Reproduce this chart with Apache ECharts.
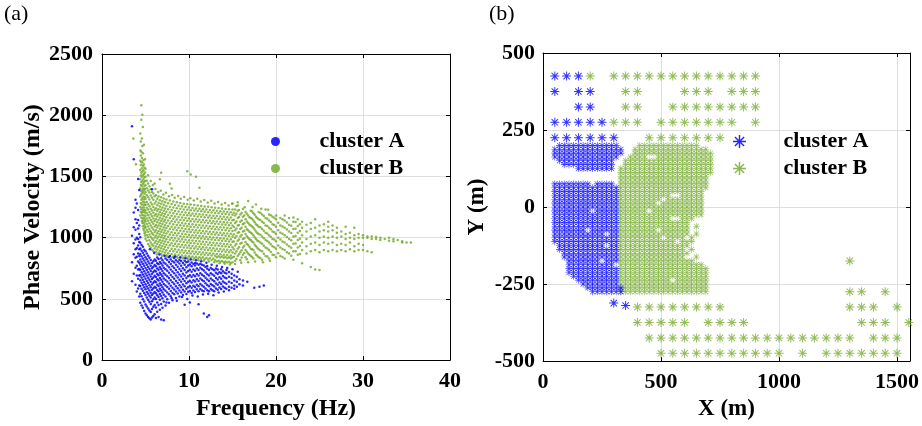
<!DOCTYPE html>
<html><head><meta charset="utf-8">
<script src="https://cdn.jsdelivr.net/npm/echarts@6/dist/echarts.min.js"></script>
<style>html,body{margin:0;padding:0;background:#fff}#c{width:922px;height:426px}</style>
</head><body><div id="c"></div>
<script>
// ---------- (a) dispersion data: [frequency (Hz), [phase velocities (m/s)]] ----------
const clusterA = [
[3.45,[645,800,1015,1910]],[3.65,[705,865,955,1085,1205,1640]],[3.85,[615,755,835,905,985,1065,1150,1245,1310]],
[4.0,[560,690,770,845,915,1000,1120,1280]],[4.15,[585,665,740,805,870,935,990,1075,1145,1225,1480]],
[4.28,[520,610,690,745,795,850,905,965,1030,1100,1390]],
[4.40,[468,541,605,652,694,736,779,822,866,912,958,1003]],
[4.55,[445,522,583,631,675,718,761,803,848,893,940]],
[4.70,[428,497,566,614,657,700,744,787,830,876,925]],
[4.85,[402,479,548,596,638,682,726,770,813,858,902]],
[5.00,[381,455,531,578,620,665,708,752,796,840,889]],
[5.15,[366,437,512,557,602,647,691,735,779,823,871]],
[5.30,[352,421,493,542,585,629,673,717,761,806,852]],
[5.45,[342,405,476,525,568,612,656,700,744,788,835]],
[5.60,[331,392,459,511,551,595,639,683,727,771,817]],
[5.75,[348,418,481,531,574,618,662,706,750,794,1395]],
[5.90,[361,436,497,543,587,631,675,719,763,808]],
[6.05,[374,449,512,556,600,644,688,732,776,822]],
[6.20,[343,429,499,547,591,635,679,723,767,811]],
[6.35,[395,471,529,572,616,660,704,748,792,838]],
[6.50,[352,451,516,562,606,650,694,738,782,826]],
[6.65,[412,492,540,582,626,670,714,758,802]],
[6.80,[331,458,523,568,612,656,700,744,788,831]],
[6.95,[427,505,552,596,640,684,728,772,816]],
[7.10,[325,478,534,578,622,666,710,754,798]],
[7.30,[446,519,566,610,654,698,742,786,830]],
[7.50,[496,553,597,641,685,729,773,817]],
[7.70,[468,538,582,626,670,714,758,802,841]],
[7.90,[521,564,608,652,696,740,784,822]],
[8.10,[489,549,591,635,679,723,767,808]],
[8.30,[538,577,621,665,709,753,797,833]],
[8.50,[508,560,603,647,691,735,779,816]],
[8.70,[544,586,630,674,718,762,804]],
[8.90,[519,568,612,656,700,744,788,818]],
[9.10,[553,595,639,683,727,771,810]],
[9.30,[532,574,618,662,706,750,794]],
[9.50,[452,561,603,647,691,735,779,812]],
[9.70,[540,583,627,671,715,759,800]],
[9.90,[558,596,640,684,728,772,805]],
[10.10,[471,564,605,649,693,737,781]],
[10.30,[549,590,634,678,722,766,797]],
[10.50,[569,608,652,696,740,784]],
[10.70,[556,597,641,685,729,773,794]],
[10.90,[578,616,660,704,748,789]],
[11.10,[456,563,603,647,691,735,779]],
[11.30,[581,622,666,710,754,786]],
[11.50,[569,610,654,698,742,779]],
[11.70,[381,562,599,643,687,731,772]],
[11.90,[585,628,672,716,760]],
[12.10,[352,571,614,658,702,746,768]],
[12.30,[366,563,603,647,691,735]],
[12.50,[581,622,666,710,752]],
[12.70,[570,611,655,699,743]],
[12.90,[562,601,645,689,733]],
[13.10,[585,626,670,714,748]],
[13.30,[574,615,659,703,740]],
[13.50,[592,633,677,718]],
[13.70,[580,621,665,709,742]],
[13.90,[601,642,686,725]],
[14.10,[590,631,675,714]],
[14.30,[583,624,668,707,735]],
[14.60,[600,640,680,720]],[14.90,[590,630,670,705]],
[15.2,[610,650,690]],[15.5,[600,640,680]],[15.8,[620,660]],[16.2,[610,650]],
[16.7,[640]],[17.5,[590]],[18.1,[600]],[18.6,[610]]
];
// loose points around the edge of cluster A: [frequency, velocity]
const clusterAEdge = [
[5.5,905],[6.0,875],[6.6,862],[7.2,850],[7.8,851],[8.4,846],[9.0,838],[9.6,831],[10.2,822],[10.8,816],
[11.4,808],[12.0,795],[12.6,778],[13.2,770],[13.8,760],[14.4,752],[15.0,742],[15.6,722],
[7.4,470],[8.0,505],[8.6,485],[9.2,515],[9.8,498],[10.4,528],[11.0,520],[11.6,535],[12.2,541],
[12.8,530],[13.4,552],[14.0,560],[14.6,570],[15.2,582]
];
const clusterB = [
[3.6,[1810]],[3.9,[1600]],
[4.40,[1182,1251,1336,1402,1478,1553,1628,1712,1850]],
[4.46,[1210,1284,1349,1431,1507,1594,1671,1785]],
[4.52,[1163,1232,1309,1380,1455,1530,1618,1702,1962,2082]],
[4.58,[1137,1203,1270,1358,1420,1497,1566,1650,1809]],
[4.64,[1119,1186,1247,1321,1392,1463,1540,1613,1748,2003]],
[4.70,[1094,1158,1224,1293,1370,1438,1509,1588,1690,1903]],
[4.76,[1073,1140,1209,1268,1336,1402,1477,1551,1634]],
[4.82,[1058,1117,1181,1247,1311,1386,1450,1520,1598,1758]],
[4.88,[1035,1101,1163,1228,1290,1358,1421,1493,1570]],
[4.94,[1017,1080,1142,1206,1268,1330,1397,1462,1532,1640]],
[5.00,[992,1046,1088,1133,1179,1222,1268,1315,1372,1431,1497,1562]],
[5.15,[974,1019,1064,1111,1157,1200,1245,1292,1347,1404,1465]],
[5.30,[948,1003,1049,1092,1138,1184,1229,1273,1330,1386,1442]],
[5.45,[931,979,1026,1071,1118,1163,1209,1256,1311,1369,1420]],
[5.60,[917,960,1008,1052,1099,1145,1191,1236,1288,1344,1395]],
[5.75,[902,945,993,1037,1084,1129,1175,1221,1270,1326,1372]],
[5.90,[890,934,980,1024,1066,1113,1157,1204,1251,1309,1360]],
[6.05,[912,956,1002,1047,1091,1137,1181,1228,1280,1338,1443]],
[6.20,[885,927,971,1015,1061,1104,1150,1194,1241,1296,1347]],
[6.35,[903,948,993,1036,1082,1126,1173,1219,1265,1318]],
[6.50,[877,922,966,1010,1053,1100,1144,1189,1233,1284,1336]],
[6.65,[893,937,981,1028,1072,1117,1162,1207,1255,1305,1478]],
[6.80,[869,914,959,1003,1049,1093,1139,1183,1228,1276,1330,1530]],
[6.95,[886,931,975,1019,1065,1111,1155,1200,1247,1297]],
[7.10,[861,905,950,996,1040,1084,1131,1175,1220,1268,1320]],
[7.25,[879,924,968,1013,1058,1101,1147,1193,1238,1289]],
[7.40,[856,898,943,988,1033,1078,1122,1167,1212,1259,1311]],
[7.60,[873,917,962,1007,1051,1096,1141,1186,1232,1281]],
[7.80,[851,892,937,982,1026,1071,1115,1160,1205,1252,1303,1440]],
[8.00,[866,910,955,1000,1044,1089,1134,1179,1225,1274,1401]],
[8.20,[847,889,932,976,1020,1066,1110,1155,1199,1246,1296]],
[8.40,[862,905,951,995,1039,1083,1129,1173,1218,1266]],
[8.60,[844,883,927,971,1017,1061,1104,1149,1194,1240,1289]],
[8.80,[858,902,946,990,1035,1080,1124,1168,1213,1261]],
[9.00,[841,879,923,968,1012,1057,1101,1145,1190,1236,1283]],
[9.20,[855,898,942,987,1031,1076,1120,1164,1209,1256]],
[9.40,[838,876,920,964,1008,1053,1097,1142,1186,1231,1277]],
[9.60,[852,894,938,983,1027,1071,1116,1160,1205,1251]],
[9.80,[836,873,917,960,1005,1049,1094,1139,1183,1228,1273,1543]],
[10.00,[849,891,935,979,1023,1068,1112,1157,1201,1247]],
[10.20,[834,871,914,957,1002,1046,1090,1135,1180,1224,1270,1516]],
[10.40,[846,888,931,976,1020,1064,1109,1153,1198,1243]],
[10.60,[832,868,911,954,999,1043,1087,1132,1176,1221,1266]],
[10.80,[844,885,928,973,1017,1061,1106,1150,1195,1239,1497]],
[11.00,[829,866,908,951,996,1040,1084,1129,1173,1218,1262]],
[11.20,[841,882,925,970,1014,1058,1103,1147,1192,1236,1408]],
[11.40,[827,863,905,948,993,1037,1081,1126,1170,1215,1258]],
[11.60,[839,879,922,967,1011,1055,1100,1144,1189,1233]],
[11.80,[824,861,902,945,990,1034,1078,1123,1167,1211,1255]],
[12.00,[836,876,919,964,1008,1052,1097,1141,1186,1229]],
[12.20,[821,858,899,942,987,1031,1075,1120,1164,1208,1252]],
[12.40,[833,873,916,961,1005,1049,1094,1138,1182,1226]],
[12.60,[818,855,896,939,984,1028,1072,1117,1161,1205,1248]],
[12.80,[830,870,913,958,1002,1046,1091,1135,1179,1223]],
[13.00,[815,852,893,936,981,1025,1069,1114,1158,1202,1245]],
[13.20,[806,841,867,910,955,999,1043,1088,1132,1176,1219]],
[13.40,[812,849,890,933,978,1022,1066,1111,1155,1199,1242]],
[13.60,[803,838,864,907,952,996,1040,1085,1129,1173,1216]],
[13.80,[809,846,887,930,975,1019,1063,1108,1152,1196,1238]],
[14.00,[800,835,861,904,949,993,1037,1082,1126,1170,1213]],
[14.20,[806,843,884,927,972,1016,1060,1105,1149,1193,1235]],
[14.40,[797,832,858,901,946,990,1034,1079,1123,1167,1210]],
[14.60,[803,840,881,924,969,1013,1057,1102,1146,1190,1232]],
[14.80,[794,829,855,898,943,987,1031,1076,1120,1164,1207]],
[15.00,[800,837,878,921,966,1010,1054,1099,1143,1187,1229,1280]],
[15.15,[845,905,968,1027,1088,1146,1204]],
[15.3,[812,870,935,1000,1060,1120,1180,1230]],
[15.45,[826,889,951,1013,1075,1133,1195,1258]],
[15.6,[850,910,975,1040,1100,1160,1220,1290]],
[15.75,[864,921,985,1045,1104,1168,1226]],
[15.9,[815,880,950,1010,1070,1130,1190]],
[16.05,[838,897,958,1021,1081,1141,1201]],
[16.2,[860,920,990,1050,1110,1170,1235]],
[16.35,[874,934,996,1056,1118,1182]],
[16.5,[840,900,965,1030,1090,1150,1210]],
[16.65,[823,885,948,1012,1069,1131,1195]],
[16.8,[870,940,1000,1060,1120,1180,1300]],
[16.95,[861,925,986,1048,1108,1166]],
[17.1,[850,910,980,1040,1100,1160,1220]],
[17.25,[842,906,969,1031,1092,1154,1214]],
[17.4,[830,900,960,1020,1080,1140,1200]],
[17.55,[879,942,1004,1066,1126,1188]],
[17.7,[860,930,990,1050,1110,1170,1270]],
[17.85,[853,917,977,1038,1101,1160]],
[18.0,[840,905,970,1030,1090,1150,1210]],
[18.2,[833,896,961,1024,1085,1144,1203]],
[18.4,[820,890,950,1010,1070,1130,1190]],
[18.6,[869,934,995,1057,1119,1176]],
[18.8,[850,920,980,1040,1100,1160,1230]],
[19.0,[846,911,973,1034,1096,1155]],
[19.2,[830,900,960,1020,1080,1140,1190]],
[19.4,[882,946,1008,1068,1127,1183]],
[19.6,[860,930,990,1050,1110,1170]],
[19.8,[858,921,984,1045,1104,1162]],
[20.0,[840,910,970,1030,1090,1150,1180]],
[20.25,[872,936,999,1061,1121]],
[20.5,[850,920,985,1040,1100,1160]],
[20.75,[843,908,969,1031,1092,1150]],
[21.0,[830,900,960,1020,1080,1140,1180]],
[21.25,[881,945,1006,1067,1124]],
[21.5,[870,930,990,1050,1105,1160]],
[21.75,[852,917,979,1038,1097]],
[22.0,[820,890,950,1010,1070,1130,1165]],
[22.25,[889,953,1014,1072,1128]],
[22.5,[860,920,980,1040,1095,1150]],
[22.75,[866,931,992,1054,1110]],
[23.0,[790,900,960,1020,1080,1130]],[23.5,[870,930,990,1050,1105]],
[24.0,[760,890,950,1010,1070,1120]],[24.5,[740,900,960,1020,1080,1150]],
[25.0,[735,880,940,1000,1050,1100]],[25.5,[900,960,1010,1060,1110]],
[26.0,[890,950,1000,1050,1090,1130]],[26.5,[900,960,1010,1060,1100]],
[27.0,[890,940,1000,1040,1080]],[27.5,[900,950,1010,1050]],
[28.0,[890,940,990,1030,1090]],[28.5,[905,960,1000,1040]],
[29.0,[890,930,990,1020,1080]],[29.5,[900,950,1000,1030]],
[30.0,[900,940,1000,1020]],[30.5,[890,1000,1010]],[31.0,[880,990,1010]],
[31.5,[990,1005]],[32.0,[980,1000]],[32.5,[990]],[33.0,[975,1000]],
[33.5,[970,990]],[34.0,[980]],[34.5,[960,970]],[35.0,[960]],[35.5,[960]]
];
// loose points around the edge of cluster B: [frequency, velocity]
const clusterBEdge = [
[5.3,1510],[5.6,1462],[5.85,1431],[6.15,1398],[6.45,1372],[6.75,1384],[7.05,1352],[7.35,1366],[7.7,1338],
[8.05,1349],[8.35,1326],[8.75,1341],[9.05,1318],[9.45,1332],[9.85,1309],[10.15,1322],[10.55,1303],
[10.95,1317],[11.35,1296],[11.75,1308],[12.15,1288],[12.55,1301],[12.95,1279],[13.35,1292],[13.75,1270],
[14.15,1284],[14.55,1262],[14.95,1276],[15.6,1262],[16.4,1248],[17.3,1251],[18.3,1236],[19.1,1228],
[6.3,862],[6.9,851],[7.5,846],[8.1,839],[8.7,833],[9.3,829],[9.9,824],[10.5,820],[11.1,815],[11.7,811],
[12.3,806],[12.9,799],[13.5,792],[14.1,786],[14.7,781],[15.3,785],[16.0,795],[16.8,800],[17.6,806],
[18.5,800],[19.3,812]
];
const freqTicks = [0, 10, 20, 30, 40];
const velTicks = [0, 500, 1000, 1500, 2000, 2500];

// ---------- (b) survey grid positions ----------
// sparse rows: [Y (m), [X (m), ...]]
const sparseA = [
[425,[50,100,150]],[375,[50,150,200]],[325,[150,200]],
[275,[50,100,150,200,250]],[225,[50,100,150,200,250,300]],
[-312,[300]],[-320,[350]]
];
const sparseB = [
[425,[200,300,350,400,450,500,550,600,650,700,750,800,850,900]],
[375,[350,400,600,650,700,800,850,900]],
[325,[350,400,550,600,650,700,750,800,850,900]],
[275,[300,350,400,500,550,600,650,700,750,800,900]],
[225,[450,500,550,600,650,700,750]],
[-175,[1300]],
[-275,[1300,1350,1450]],
[-325,[400,450,500,550,600,650,700,750,1300,1350,1400,1500]],
[-375,[400,450,500,550,600,700,750,800,850,1350,1400,1450,1550]],
[-425,[450,500,550,600,650,700,750,800,850,900,950,1000,1050,1100,1150,1200,1250,1300,1400,1450,1500]],
[-475,[500,550,600,650,700,750,800,850,900,950,1000,1100,1200,1250,1300,1350,1400,1450,1500]]
];
// dense rows on the fine grid: [Y (m), xStart, xEnd, xStart, xEnd ...]
const denseStep = 20;
const denseA = [
[200,70,310],[187.5,50,330],[175,50,330],[162.5,50,310],[150,70,290],[137.5,90,290],[125,150,290],
[75,50,190,230,290],[62.5,50,190,210,310],[50,50,310],[37.5,50,310],[25,50,310],[12.5,50,310],[0,50,310],
[-12.5,50,190,230,310],[-25,50,310],[-37.5,50,310],[-50,50,310],[-62.5,50,310],
[-75,50,170,210,310],[-87.5,50,250,290,310],[-100,50,310],[-112.5,50,310],
[-125,70,250,290,310],[-137.5,70,310],[-150,90,310],[-162.5,90,310],
[-175,110,230,270,310],[-187.5,110,290],[-200,110,310],[-212.5,110,310],[-225,130,310],
[-237.5,150,310],[-250,170,310],[-262.5,190,330],[-275,210,330]
];
const denseB = [
[200,410,650],[187.5,390,690],[175,390,710],[162.5,370,430,490,710],[150,350,710],[137.5,350,710],
[125,330,710],[112.5,330,710],[100,330,690],[87.5,330,690],[75,330,690],[62.5,330,690],[50,330,670],
[37.5,330,530,590,670],[25,330,490,530,670],[12.5,330,470,510,670],[0,330,670],[-12.5,330,430,470,670],
[-25,330,670],[-37.5,330,530,590,630],[-50,330,610],[-62.5,330,610,650,650],[-75,330,470,510,610],
[-87.5,330,610,650,650],[-100,330,490,530,590,630,630],[-112.5,330,550,590,630],[-125,330,610],
[-137.5,330,590,630,630],[-150,330,610],[-162.5,330,590,650,650],[-175,330,630],[-187.5,330,670],
[-200,330,690],[-212.5,330,690],[-225,330,690],[-237.5,330,530,570,690],[-250,330,690],
[-262.5,330,690],[-275,330,700]
];
const xTicksB = [0, 500, 1000, 1500];
const yTicksB = [-500, -250, 0, 250, 500];

// ---------- build point tables ----------
function fromCols(cols){const o=[];cols.forEach(c=>c[1].forEach(v=>o.push([c[0],v])));return o;}
function fromRows(rows){const o=[];rows.forEach(r=>r[1].forEach(x=>o.push([x,r[0]])));return o;}
function fromRuns(runs){const o=[];runs.forEach(r=>{for(let i=1;i<r.length;i+=2){for(let x=r[i];x<=r[i+1]+0.5;x+=denseStep)o.push([x,r[0]]);}});return o;}

const ptsA1 = fromCols(clusterA).concat(clusterAEdge), ptsB1 = fromCols(clusterB).concat(clusterBEdge);
const sparsePtsA = fromRows(sparseA), densePtsA = fromRuns(denseA);
const sparsePtsB = fromRows(sparseB), densePtsB = fromRuns(denseB);

const BLUE = '#0000ff', GREEN = '#77ac30';
const FONT = 'Liberation Serif';
const STAR = 'path://M-0.9,-10L0.9,-10L0.9,10L-0.9,10Z M-10,-0.9L10,-0.9L10,0.9L-10,0.9Z M-6.43,-7.7L7.7,6.43L6.43,7.7L-7.7,-6.43Z M6.43,-7.7L7.7,-6.43L-6.43,7.7L-7.7,6.43Z';
const STAR_L = 'path://M-1.1,-10L1.1,-10L1.1,10L-1.1,10Z M-10,-1.1L10,-1.1L10,1.1L-10,1.1Z M-6.29,-7.85L7.85,6.29L6.29,7.85L-7.85,-6.29Z M6.29,-7.85L7.85,-6.29L-6.29,7.85L-7.85,6.29Z';
const lbl = {fontFamily:FONT,fontWeight:'bold',fontSize:22,color:'#000'};
const axLine = {show:true,onZero:false,lineStyle:{color:'#000',width:1}};
const tick = {show:true,inside:true,length:4,lineStyle:{color:'#000'}};
const split = {show:true,lineStyle:{color:'#dedede',width:1}};

function mainAxis(o){return Object.assign({type:'value',axisLine:axLine,axisTick:tick,splitLine:split,
  nameLocation:'middle',nameTextStyle:{fontFamily:FONT,fontWeight:'bold',fontSize:24,color:'#000'}},o);}
function boxAxis(o){return Object.assign({type:'value',axisLine:axLine,axisTick:tick,splitLine:{show:false},axisLabel:{show:false}},o);}
const fmt = list => (v => list.indexOf(v) >= 0 ? String(v) : '');

const option = {
  animation:false,
  backgroundColor:'#fff',
  title:[
    {text:'(a)',left:4,top:3,padding:0,textStyle:{fontFamily:FONT,fontWeight:'normal',fontSize:22,color:'#000'}},
    {text:'(b)',left:489,top:3,padding:0,textStyle:{fontFamily:FONT,fontWeight:'normal',fontSize:22,color:'#000'}}
  ],
  grid:[
    {left:102,top:54,width:348,height:309},
    {left:543,top:53,width:367,height:308}
  ],
  xAxis:[
    mainAxis({gridIndex:0,min:0,max:40,interval:10,position:'bottom',name:'Frequency (Hz)',nameGap:30,
      axisLabel:Object.assign({margin:10,formatter:fmt(freqTicks)},lbl)}),
    boxAxis({gridIndex:0,min:0,max:40,interval:10,position:'top'}),
    mainAxis({gridIndex:1,min:0,max:1555,interval:500,position:'bottom',name:'X (m)',nameGap:30,
      nameTextStyle:{fontFamily:FONT,fontWeight:'bold',fontSize:23,color:'#000'},
      axisLabel:Object.assign({margin:10,formatter:fmt(xTicksB)},lbl)}),
    boxAxis({gridIndex:1,min:0,max:1555,interval:500,position:'top'})
  ],
  yAxis:[
    mainAxis({gridIndex:0,min:0,max:2500,interval:500,position:'left',name:'Phase Velocity (m/s)',nameGap:57,
      axisLabel:Object.assign({margin:9,formatter:fmt(velTicks)},lbl)}),
    boxAxis({gridIndex:0,min:0,max:2500,interval:500,position:'right'}),
    mainAxis({gridIndex:1,min:-500,max:500,interval:250,position:'left',name:'Y (m)',nameGap:54,
      nameTextStyle:{fontFamily:FONT,fontWeight:'bold',fontSize:23,color:'#000'},
      axisLabel:Object.assign({margin:8,formatter:fmt(yTicksB)},lbl)}),
    boxAxis({gridIndex:1,min:-500,max:500,interval:250,position:'right'})
  ],
  legend:[
    {data:[{name:'cluster A',icon:'circle'},{name:'cluster B',icon:'circle'}],orient:'vertical',
     left:271,top:128,padding:0,itemWidth:78,itemHeight:9,itemGap:0,selectedMode:false,
     textStyle:{fontFamily:FONT,fontWeight:'bold',fontSize:22,color:'#000',lineHeight:27}},
    {data:[{name:'cluster A',icon:STAR_L},{name:'cluster B',icon:STAR_L}],orient:'vertical',
     left:733,top:128,padding:0,itemWidth:78,itemHeight:13,itemGap:0,selectedMode:false,
     textStyle:{fontFamily:FONT,fontWeight:'bold',fontSize:22,color:'#000',lineHeight:27}}
  ],
  series:[
    {name:'cluster B',type:'scatter',xAxisIndex:0,yAxisIndex:0,data:ptsB1,symbol:'circle',symbolSize:2.5,
     itemStyle:{color:GREEN,opacity:0.85},silent:true},
    {name:'cluster A',type:'scatter',xAxisIndex:0,yAxisIndex:0,data:ptsA1,symbol:'circle',symbolSize:2.5,
     itemStyle:{color:BLUE,opacity:0.85},silent:true},
    {name:'cluster B',type:'scatter',xAxisIndex:2,yAxisIndex:2,data:densePtsB,symbol:STAR,symbolSize:7,
     itemStyle:{color:GREEN},silent:true},
    {name:'cluster A',type:'scatter',xAxisIndex:2,yAxisIndex:2,data:densePtsA,symbol:STAR,symbolSize:7,
     itemStyle:{color:BLUE},silent:true},
    {name:'cluster B',type:'scatter',xAxisIndex:2,yAxisIndex:2,data:sparsePtsB,symbol:STAR_L,symbolSize:9,
     itemStyle:{color:GREEN},silent:true},
    {name:'cluster A',type:'scatter',xAxisIndex:2,yAxisIndex:2,data:sparsePtsA,symbol:STAR_L,symbolSize:9,
     itemStyle:{color:BLUE},silent:true}
  ]
};
echarts.init(document.getElementById('c'),null,{renderer:'canvas'}).setOption(option);
</script></body></html>
